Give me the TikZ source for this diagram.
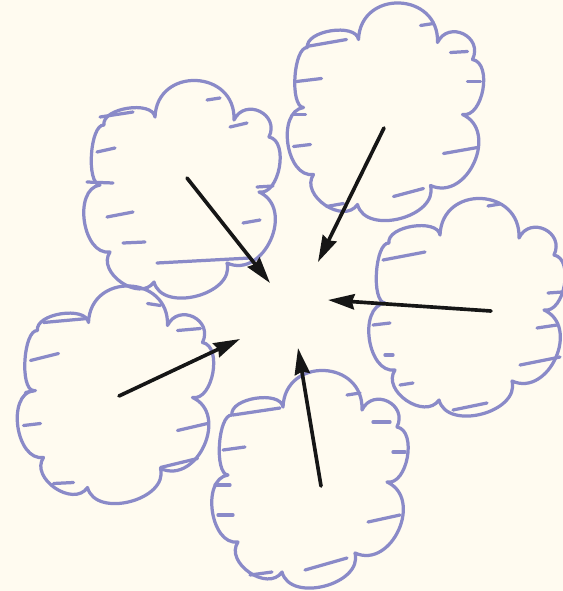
\documentclass[tikz,border=0pt]{standalone}
\usetikzlibrary{arrows.meta}
\definecolor{paper}{HTML}{FFFBF0}
\definecolor{puff}{HTML}{8A8AC8}
\definecolor{ink}{HTML}{161616}
% one cloud outline, local coordinates round its centre
\newcommand{\cloudoutline}{(-26,-71) to[bend left=90,looseness=1.64] (53,-68)
  to[bend left=90,looseness=1.67] (88,-51) to[bend left=90,looseness=0.95] (78,4)
  to[bend left=90,looseness=1.33] (46,75) to[bend left=90,looseness=1.1] (-27,94)
  to[bend left=90,looseness=1.2] (-71,64) to[bend left=90,looseness=1.05] (-81,-3)
  to[bend left=90,looseness=0.6] (-77,-63) to[bend left=90,looseness=0.85] (-26,-71) -- cycle}

\begin{document}
\begin{tikzpicture}[x=0.025cm,y=-0.025cm,>={Stealth[length=0.66cm,width=0.38cm,inset=0.06cm]},
  line cap=round,line join=round,
  puffline/.style={draw=puff,line width=2.3pt},
  pointer/.style={->,draw=ink,fill=ink,line width=2.6pt}]
\fill[paper] (0,0) rectangle (563,591);
\useasboundingbox (0,0) rectangle (563,591);
% cloud centres
\coordinate (c1) at (181,188);
\coordinate (c2) at (384.5,110.5);
\coordinate (c3) at (466,306);
\coordinate (c4) at (309,478);
\coordinate (c5) at (114.5,393.5);
% top left cloud
\begin{scope}[shift={(c1)}]
\draw[puffline] \cloudoutline;
\foreach \xa/\ya/\xb/\yb in {26/-88/39/-90,49/-61/66/-65,-84/-36/-66/-40,-94/-6/-68/-5,
  -74/29/-48/24,-58/55/-36/54,76/-1/92/-2,62/35/79/32,-24/75/69/70,-81/-71/-48/-76}
  \draw[puffline] (\xa,\ya) -- (\xb,\yb);
\end{scope}
% top right cloud
\begin{scope}[shift={(c2)}]
\draw[puffline] \cloudoutline;
\foreach \xa/\ya/\xb/\yb in {36/-85/49/-87,66/-58/83/-59,83/-29/96/-29,59/43/93/37,
  9/86/39/78,-88/-29/-63/-32,-91/4/-79/4,-91/36/-74/34,-58/96/-41/93,-78/-64/-38/-71}
  \draw[puffline] (\xa,\ya) -- (\xb,\yb);
\end{scope}
% right cloud
\begin{scope}[shift={(c3)}]
\draw[puffline] \cloudoutline;
\foreach \xa/\ya/\xb/\yb in {-83/-46/-41/-54,-93/19/-76/17,-81/49/-73/49,-66/79/-53/77,
  22/-100/34/-102,82/-13/96/-14,71/22/91/19,54/59/94/51,-13/104/21/97}
  \draw[puffline] (\xa,\ya) -- (\xb,\yb);
\end{scope}
% bottom cloud
\begin{scope}[shift={(c4)}]
\draw[puffline] \cloudoutline;
\foreach \xa/\ya/\xb/\yb in {38/-83/51/-85,64/-56/81/-56,84/-26/96/-26,59/44/91/37,
  -4/92/38/80,-86/-28/-64/-31,-94/7/-79/7,-91/37/-76/37,-59/97/-37/94,-76/-63/-29/-70}
  \draw[puffline] (\xa,\ya) -- (\xb,\yb);
\end{scope}
% left cloud
\begin{scope}[shift={(c5)}]
\draw[puffline] \cloudoutline;
\foreach \xa/\ya/\xb/\yb in {-84/-33/-56/-40,-89/-1/-79/-3,-91/32/-74/30,-61/90/-41/89,
  33/-90/46/-88,63/-63/86/-65,63/37/93/30,46/74/83/65,-71/-71/-27/-75}
  \draw[puffline] (\xa,\ya) -- (\xb,\yb);
\end{scope}
% arrows into the middle
\coordinate (s1) at (187,178); \coordinate (t1) at (270,283);
\coordinate (s2) at (384,128); \coordinate (t2) at (318,262);
\coordinate (s3) at (491,311); \coordinate (t3) at (328,300);
\coordinate (s4) at (321,486); \coordinate (t4) at (298,348);
\coordinate (s5) at (119,396); \coordinate (t5) at (240,339);
\foreach \i in {1,...,5}
  \draw[pointer] (s\i) -- (t\i);
\end{tikzpicture}
\end{document}
